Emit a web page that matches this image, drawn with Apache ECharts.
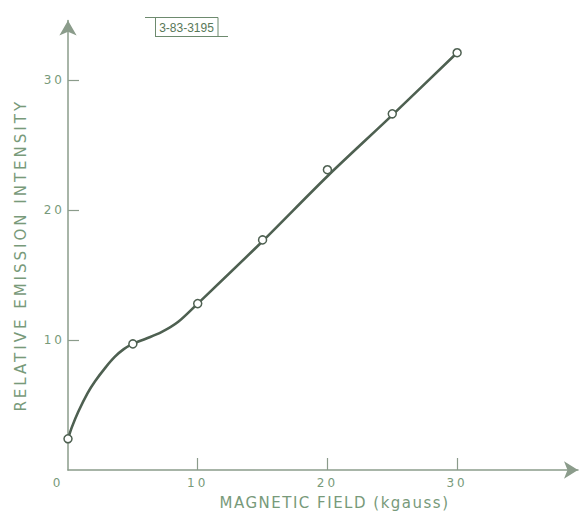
<!DOCTYPE html>
<html>
<head>
<meta charset="utf-8">
<script src="https://cdn.jsdelivr.net/npm/echarts@6/dist/echarts.min.js"></script>
<style>
html,body{margin:0;padding:0;background:#fff;}
#chart{width:586px;height:514px;}
</style>
</head>
<body>
<div id="chart"></div>
<script>
// Measured points (magnetic field in kgauss, relative emission intensity)
const measuredX = [0, 5, 10, 15, 20, 25, 30];
const measuredY = [2.4, 9.7, 12.8, 17.7, 23.1, 27.4, 32.1];
// Hand-drawn smooth curve through the data
const curveX = [0, 0.3, 0.8, 1.5, 2.1, 2.9, 3.6, 4.3, 5, 6, 7.2, 8.5, 10, 15, 20, 25, 30];
const curveY = [2.4, 3.3, 4.5, 5.9, 6.85, 7.9, 8.7, 9.3, 9.7, 10.1, 10.6, 11.4, 12.8, 17.6, 22.6, 27.3, 32.1];
// Tick labels
const xTickValues = [0, 10, 20, 30];
const yTickValues = [10, 20, 30];
const xTitle = 'MAGNETIC FIELD (kgauss)';
const yTitle = 'RELATIVE EMISSION INTENSITY';
const figureId = '3-83-3195';

const textColor = '#789a7a';
const axisColor = '#8b9c8b';
const curveColor = '#4e6051';
const font = "'DejaVu Sans', sans-serif";

const chart = echarts.init(document.getElementById('chart'), null, {renderer: 'svg'});

const option = {
  animation: false,
  backgroundColor: '#ffffff',
  grid: {left: 68, right: 8, top: 20.5, bottom: 44, outerBoundsMode: 'none', containLabel: false},
  xAxis: {
    type: 'value', min: 0, max: 39.32, interval: 10,
    name: xTitle, nameLocation: 'middle', nameGap: 25,
    nameTextStyle: {color: textColor, fontSize: 15, fontFamily: font, padding: [0, 0, 0, 23]},
    axisLine: {show: true, symbol: ['none', 'arrow'], symbolSize: [13, 14], lineStyle: {color: axisColor, width: 1.5}},
    axisTick: {show: true, inside: true, length: 12, customValues: [10, 20, 30], lineStyle: {color: axisColor, width: 1.2}},
    axisLabel: {
      customValues: xTickValues, margin: 7, color: textColor, fontSize: 12, fontFamily: font,
      formatter: function (v) { return v === 0 ? '{z|0}' : String(v); },
      rich: {z: {color: textColor, fontSize: 12, fontFamily: font, padding: [0, 20, 0, 0]}}
    },
    splitLine: {show: false}
  },
  yAxis: {
    type: 'value', min: 0, max: 34.58, interval: 10,
    name: yTitle, nameLocation: 'middle', nameGap: 40, nameRotate: 90,
    nameTextStyle: {color: textColor, fontSize: 15, fontFamily: font, padding: [0, 20, 0, 0]},
    axisLine: {show: true, symbol: ['none', 'arrow'], symbolSize: [13, 15], lineStyle: {color: axisColor, width: 1.5}},
    axisTick: {show: true, inside: true, length: 11, customValues: yTickValues, lineStyle: {color: axisColor, width: 1.2}},
    axisLabel: {customValues: yTickValues, margin: 3, color: textColor, fontSize: 12, fontFamily: font},
    splitLine: {show: false}
  },
  graphic: [
    {type: 'line', shape: {x1: 145, y1: 17.5, x2: 218, y2: 17.5}, style: {stroke: '#6d8a6e', lineWidth: 1}},
    {type: 'line', shape: {x1: 155, y1: 36.5, x2: 228, y2: 36.5}, style: {stroke: '#6d8a6e', lineWidth: 1}},
    {type: 'rect', shape: {x: 155.5, y: 17.5, width: 62.5, height: 19}, style: {fill: 'none', stroke: '#6d8a6e', lineWidth: 1}},
    {type: 'text', x: 186.5, y: 27.5, style: {text: figureId, fill: '#587858', font: "12px 'Liberation Sans Narrow', 'Liberation Sans', sans-serif", textAlign: 'center', textVerticalAlign: 'middle'}}
  ],
  series: [
    {
      type: 'line', data: curveX.map((x, i) => [x, curveY[i]]),
      smooth: 0.3, showSymbol: false, symbol: 'none',
      lineStyle: {color: curveColor, width: 2.6}, z: 2, silent: true
    },
    {
      type: 'scatter', data: measuredX.map((x, i) => [x, measuredY[i]]),
      symbol: 'circle', symbolSize: 8,
      itemStyle: {color: '#ffffff', borderColor: curveColor, borderWidth: 1.5, opacity: 1}, z: 3, silent: true
    }
  ]
};
chart.setOption(option);

function applySpacing() {
  document.querySelectorAll('#chart svg text').forEach(function (t) {
    const s = t.textContent.trim();
    let sp = null;
    if (s === yTitle) sp = '3px';
    else if (s === xTitle) sp = '1.5px';
    else if (/^\d+$/.test(s)) sp = '3px';
    if (sp) t.style.letterSpacing = sp;
  });
}
chart.on('finished', applySpacing);
applySpacing();
setTimeout(applySpacing, 50);
</script>
</body>
</html>
